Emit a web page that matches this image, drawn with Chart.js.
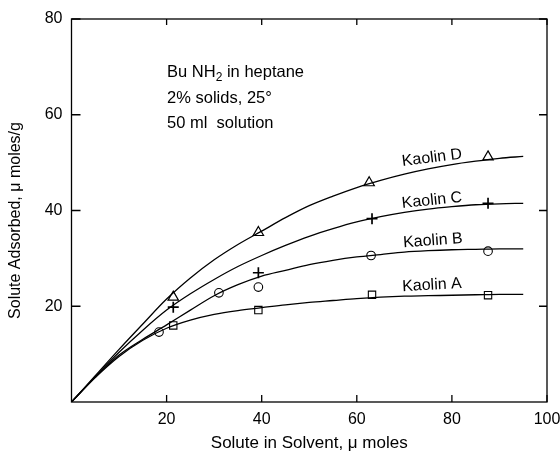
<!DOCTYPE html>
<html>
<head>
<meta charset="utf-8">
<script src="https://cdn.jsdelivr.net/npm/chart.js@4/dist/chart.umd.min.js"></script>
<style>
  html, body { margin: 0; padding: 0; background: #fff; }
  #wrap { width: 560px; height: 452px; }
</style>
</head>
<body>
<div id="wrap"><canvas id="c" width="560" height="452"></canvas></div>
<script>
// ---- Data ----
const curveX = [0, 5, 10, 15, 20, 25, 30, 35, 40, 45, 50, 55, 60, 65, 70, 75, 80, 85, 90, 95];
const curveD = [0, 5.5, 11.0, 16.3, 21.5, 25.9, 29.7, 32.9, 35.7, 38.5, 41.0, 43.0, 44.8, 46.3, 47.6, 48.7, 49.6, 50.3, 50.9, 51.3];
const curveC = [0, 5.3, 10.4, 15.0, 19.2, 22.6, 25.6, 28.3, 30.6, 32.7, 34.6, 36.2, 37.6, 38.7, 39.6, 40.3, 40.8, 41.2, 41.4, 41.5];
const curveB = [0, 5.2, 9.8, 13.1, 16.1, 19.2, 22.2, 24.5, 26.3, 27.5, 28.7, 29.6, 30.3, 30.8, 31.3, 31.6, 31.8, 31.9, 32.0, 32.0];
const curveA = [0, 5.1, 9.5, 12.9, 15.4, 17.1, 18.3, 19.1, 19.7, 20.3, 20.8, 21.2, 21.6, 21.9, 22.1, 22.2, 22.3, 22.4, 22.5, 22.5];

const ptsDx = [21.4, 39.3, 62.6, 87.6];
const ptsDy = [21.9, 35.4, 45.8, 51.2];
const ptsCx = [21.4, 39.3, 63.2, 87.6];
const ptsCy = [19.8, 27.0, 38.3, 41.5];
const ptsBx = [18.4, 31.0, 39.3, 63.0, 87.6];
const ptsBy = [14.6, 22.8, 24.0, 30.6, 31.5];
const ptsAx = [21.4, 39.3, 63.2, 87.6];
const ptsAy = [16.0, 19.2, 22.4, 22.3];

const seriesNames = ['Kaolin D', 'Kaolin C', 'Kaolin B', 'Kaolin A'];
const labelX = [75.8, 75.8, 76.0, 75.8];
const labelY = [51.0, 42.1, 33.7, 24.4];
const labelRot = [-7, -6, -4, -3];

const xTicks = [20, 40, 60, 80, 100];
const yTicks = [20, 40, 60, 80];
const xTitle = 'Solute in Solvent, \u03bc moles';
const yTitle = 'Solute Adsorbed, \u03bc moles/g';
const noteLines = ['Bu NH|2| in heptane', '2% solids, 25\u00b0', '50 ml  solution'];

// ---- helpers ----
const zip = (xs, ys) => xs.map((x, i) => ({x: x, y: ys[i]}));
const FONT = '"Liberation Sans", Arial, Helvetica, sans-serif';

function curveDS(ys) {
  return {
    data: zip(curveX, ys), showLine: true, borderColor: '#000', borderWidth: 1.3,
    pointRadius: 0, cubicInterpolationMode: 'monotone', fill: false
  };
}
function pointDS(xs, ys, style, r, bw) {
  return {
    data: zip(xs, ys), showLine: false, pointStyle: style, pointRadius: r,
    pointBorderColor: '#000', pointBackgroundColor: 'rgba(255,255,255,0)',
    pointBorderWidth: bw, pointHoverRadius: r
  };
}

const framePlugin = {
  id: 'frame',
  afterDraw(chart) {
    const ctx = chart.ctx, a = chart.chartArea;
    const xs = chart.scales.x, ys = chart.scales.y;
    ctx.save();
    ctx.strokeStyle = '#000';
    ctx.lineWidth = 1.3;
    ctx.strokeRect(a.left, a.top, a.right - a.left, a.bottom - a.top);
    ctx.beginPath();
    xTicks.forEach(v => {
      const px = xs.getPixelForValue(v);
      ctx.moveTo(px, a.bottom); ctx.lineTo(px, a.bottom - 7);
      ctx.moveTo(px, a.top); ctx.lineTo(px, a.top + 6);
    });
    yTicks.forEach(v => {
      const py = ys.getPixelForValue(v);
      ctx.moveTo(a.left, py); ctx.lineTo(a.left + 9, py);
      ctx.moveTo(a.right, py); ctx.lineTo(a.right - 8, py);
    });
    ctx.stroke();

    ctx.fillStyle = '#000';
    // axis titles
    ctx.textAlign = 'center';
    ctx.textBaseline = 'middle';
    ctx.font = '17px ' + FONT;
    ctx.fillText(xTitle, (a.left + a.right) / 2, 443);
    ctx.save();
    ctx.translate(16, (a.top + a.bottom) / 2 + 10);
    ctx.rotate(-Math.PI / 2);
    ctx.font = '16px ' + FONT;
    ctx.fillText(yTitle, 0, 0);
    ctx.restore();

    // curve labels
    ctx.font = '16px ' + FONT;
    seriesNames.forEach((n, i) => {
      const px = xs.getPixelForValue(labelX[i]);
      const py = ys.getPixelForValue(labelY[i]);
      ctx.save();
      ctx.translate(px, py);
      ctx.rotate(labelRot[i] * Math.PI / 180);
      ctx.fillText(n, 0, 0);
      ctx.restore();
    });

    // note block
    ctx.textAlign = 'left';
    ctx.textBaseline = 'alphabetic';
    const nx = xs.getPixelForValue(20);
    const baseY = [77, 103, 128];
    noteLines.forEach((line, i) => {
      const parts = line.split('|');
      let x = nx + 0.5;
      parts.forEach((p, j) => {
        if (j % 2 === 1) {
          ctx.font = '12px ' + FONT;
          ctx.fillText(p, x, baseY[i] + 4);
          x += ctx.measureText(p).width;
        } else {
          ctx.font = '16.5px ' + FONT;
          ctx.fillText(p, x, baseY[i]);
          x += ctx.measureText(p).width;
        }
      });
    });
    ctx.restore();
  }
};

new Chart(document.getElementById('c'), {
  type: 'scatter',
  data: {
    datasets: [
      curveDS(curveD), curveDS(curveC), curveDS(curveB), curveDS(curveA),
      pointDS(ptsDx, ptsDy, 'triangle', 6, 1.2),
      pointDS(ptsCx, ptsCy, 'cross', 5.5, 1.7),
      pointDS(ptsBx, ptsBy, 'circle', 4.3, 1.1),
      pointDS(ptsAx, ptsAy, 'rect', 5.2, 1.1)
    ]
  },
  options: {
    responsive: false,
    animation: false,
    layout: { padding: { left: 0, right: 13, top: 19, bottom: 0 } },
    plugins: { legend: { display: false }, tooltip: { enabled: false } },
    scales: {
      x: {
        type: 'linear', min: 0, max: 100,
        afterBuildTicks: s => { s.ticks = [0].concat(xTicks).map(v => ({value: v})); },
        afterFit: s => { s.height = 50; s.paddingLeft = 0; s.paddingRight = 0; },
        grid: { display: false, drawTicks: false },
        border: { display: false },
        ticks: { color: '#000', font: { size: 16, family: FONT }, padding: 8,
                 callback: v => (v === 0 ? '' : String(v)), maxRotation: 0 },
        title: { display: false }
      },
      y: {
        type: 'linear', min: 0, max: 80,
        afterBuildTicks: s => { s.ticks = [0].concat(yTicks).map(v => ({value: v})); },
        afterFit: s => { s.width = 71.5; s.paddingTop = 0; s.paddingBottom = 0; },
        grid: { display: false, drawTicks: false },
        border: { display: false },
        ticks: { color: '#000', font: { size: 16, family: FONT }, padding: 9,
                 callback: v => (v === 0 ? '' : String(v)) },
        title: { display: false }
      }
    }
  },
  plugins: [framePlugin]
});
</script>
</body>
</html>
